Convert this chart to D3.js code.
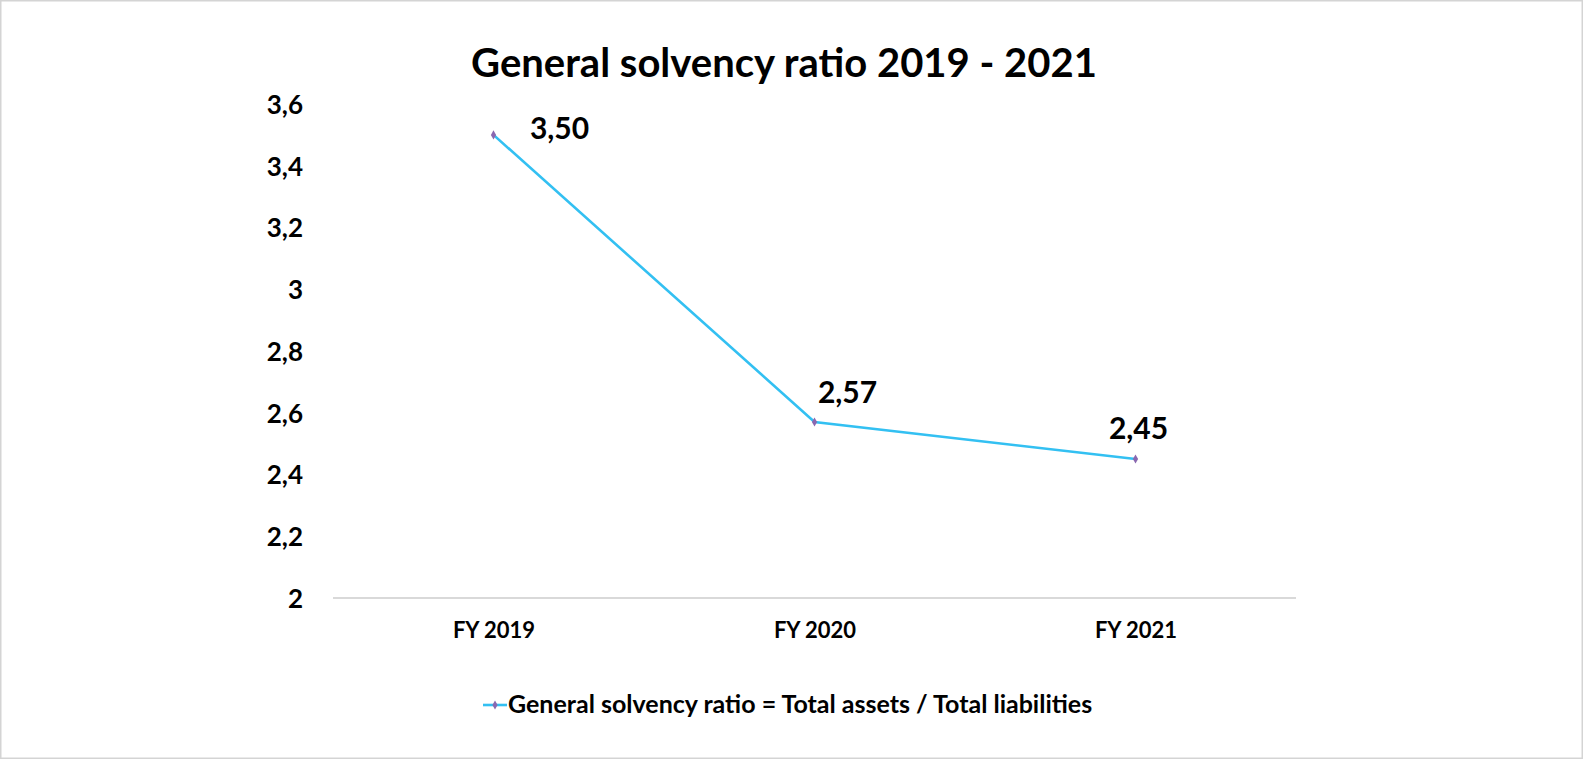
<!DOCTYPE html>
<html>
<head>
<meta charset="utf-8">
<script src="https://cdn.jsdelivr.net/npm/d3@7/dist/d3.min.js"></script>
<style>
  html, body { margin: 0; padding: 0; background: #ffffff; }
  svg { display: block; }
  text { font-family: Lato, "Open Sans", sans-serif; font-weight: 700; fill: #000; }
</style>
</head>
<body>
<svg id="chart" width="1583" height="759"></svg>
<script>
// Chart data
const title = "General solvency ratio 2019 - 2021";
const categories = ["FY 2019", "FY 2020", "FY 2021"];
const ratioValues = [3.50, 2.57, 2.45];
const yTicks = [2, 2.2, 2.4, 2.6, 2.8, 3, 3.2, 3.4, 3.6];
const seriesName = "General solvency ratio = Total assets / Total liabilities";

// Label placement relative to each point (text-anchor middle)
const labelOffsets = [[66, 4], [33, -19], [3, -20]];

const fmt = v => d3.format(".2f")(v).replace(".", ",");
const fmtTick = v => String(+v.toFixed(1)).replace(".", ",");

const W = 1583, H = 759;
const svg = d3.select("#chart");

// Outer frame
svg.append("rect")
  .attr("x", 0.75).attr("y", 0.75)
  .attr("width", W - 1.5).attr("height", H - 1.5)
  .attr("fill", "#fff").attr("stroke", "#d4d4d4").attr("stroke-width", 1.5);

const x = d3.scalePoint().domain(categories).range([333, 1296]).padding(0.5);
const y = d3.scaleLinear().domain([2, 3.6]).range([598, 104]);

// Title
svg.append("text")
  .attr("x", 784).attr("y", 77)
  .attr("text-anchor", "middle")
  .style("font-size", "40px")
  .text(title);

// Y axis labels (no axis line)
const yAxis = d3.axisLeft(y).tickValues(yTicks).tickFormat(fmtTick).tickSize(0).tickPadding(0);
const gy = svg.append("g").attr("transform", "translate(303,0)").call(yAxis);
gy.select(".domain").remove();
gy.selectAll("text")
  .attr("dy", "0.36em")
  .style("font-size", "26px")
  .style("font-family", "Lato, sans-serif")
  .style("font-weight", "700")
  .attr("fill", "#000");

// X axis baseline and labels
const xAxis = d3.axisBottom(x).tickSize(0).tickPadding(0);
const gx = svg.append("g").attr("transform", `translate(0,${y(2)})`).call(xAxis);
gx.select(".domain").attr("stroke", "#d9d9d9").attr("stroke-width", 2)
  .attr("d", `M333,0H1296`);
gx.selectAll("text")
  .attr("y", 40).attr("dy", 0)
  .style("font-size", "22px")
  .style("font-family", "Lato, sans-serif")
  .style("font-weight", "700")
  .attr("fill", "#000");

// Series line
const pts = categories.map((c, i) => ({ c, v: ratioValues[i], i }));
const lineColor = "#33c0f2";
const markerColor = "#8a68b0";
svg.append("path")
  .datum(pts)
  .attr("fill", "none")
  .attr("stroke", lineColor)
  .attr("stroke-width", 2.6)
  .attr("d", d3.line().x(d => x(d.c)).y(d => y(d.v)));

// Markers
const diamond = d3.symbol().type(d3.symbolDiamond).size(24);
svg.selectAll(".marker").data(pts).enter().append("path")
  .attr("class", "marker")
  .attr("transform", d => `translate(${x(d.c)},${y(d.v)})`)
  .attr("d", diamond)
  .attr("fill", markerColor);

// Value labels
svg.selectAll(".vlabel").data(pts).enter().append("text")
  .attr("class", "vlabel")
  .attr("text-anchor", "middle")
  .attr("x", d => x(d.c) + labelOffsets[d.i][0])
  .attr("y", d => y(d.v) + labelOffsets[d.i][1])
  .style("font-size", "30px")
  .text(d => fmt(d.v));

// Legend
const lg = svg.append("g");
lg.append("line")
  .attr("x1", 483).attr("x2", 507).attr("y1", 705).attr("y2", 705)
  .attr("stroke", lineColor).attr("stroke-width", 2.6);
lg.append("path")
  .attr("transform", "translate(495,705)")
  .attr("d", diamond)
  .attr("fill", markerColor);
lg.append("text")
  .attr("x", 508).attr("y", 713)
  .style("font-size", "25px")
  .text(seriesName);
</script>
</body>
</html>
